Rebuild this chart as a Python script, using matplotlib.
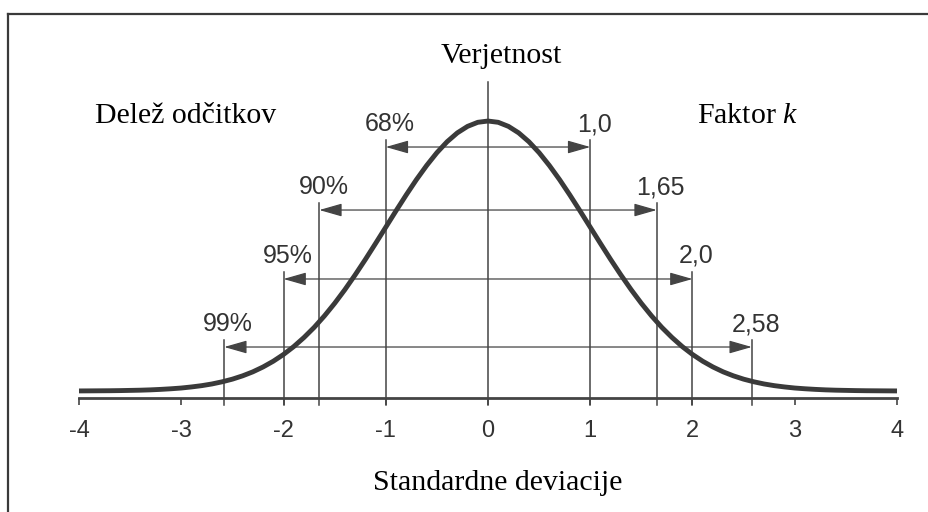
import matplotlib
matplotlib.use("Agg")
import matplotlib.pyplot as plt
from matplotlib.lines import Line2D

# standard normal density for z >= 0 (steps of 0.1); the curve is symmetric
z_half = [0.0, 0.1, 0.2, 0.3, 0.4, 0.5, 0.6, 0.7, 0.8, 0.9, 1.0,
          1.1, 1.2, 1.3, 1.4, 1.5, 1.6, 1.7, 1.8, 1.9, 2.0,
          2.1, 2.2, 2.3, 2.4, 2.5, 2.6, 2.7, 2.8, 2.9, 3.0,
          3.1, 3.2, 3.3, 3.4, 3.5, 3.6, 3.7, 3.8, 3.9, 4.0]
density_half = [0.3989, 0.3970, 0.3910, 0.3814, 0.3683, 0.3521, 0.3332, 0.3123, 0.2897, 0.2661, 0.2420,
                0.2179, 0.1942, 0.1714, 0.1497, 0.1295, 0.1109, 0.0940, 0.0790, 0.0656, 0.0540,
                0.0440, 0.0355, 0.0283, 0.0224, 0.0175, 0.0136, 0.0104, 0.0079, 0.0060, 0.0044,
                0.0033, 0.0024, 0.0017, 0.0012, 0.0009, 0.0006, 0.0004, 0.0003, 0.0002, 0.0001]

k_values = [1.0, 1.65, 2.0, 2.58]
k_labels = ['1,0', '1,65', '2,0', '2,58']
share_labels = ['68%', '90%', '95%', '99%']
ticks = [-4, -3, -2, -1, 0, 1, 2, 3, 4]
tick_labels = ['-4', '-3', '-2', '-1', '0', '1', '2', '3', '4']

# layout (density units)
arrow_levels = [0.3605, 0.2674, 0.1655, 0.0650]
axis_y = -0.0103

z = [-v for v in z_half[:0:-1]] + z_half
density = density_half[:0:-1] + density_half

W, H = 929, 512
plt.rcParams['font.family'] = ['Liberation Sans', 'DejaVu Sans']
plt.rcParams['mathtext.fontset'] = 'custom'
plt.rcParams['mathtext.it'] = 'Liberation Serif:italic'
plt.rcParams['mathtext.rm'] = 'Liberation Serif'

fig = plt.figure(figsize=(W / 100, H / 100), dpi=100)
ax = fig.add_axes([0, 0, 1, 1])
ax.set_xlim(-488 / 102.25, (W - 488) / 102.25)
ax.set_ylim(-0.17878, 0.57772)

line_col = '#444444'
curve_col = '#3a3a3a'
text_col = '#333333'

# curve
ax.plot(z, density, color=curve_col, lw=3.5, solid_capstyle='butt',
        solid_joinstyle='round', zorder=3)

# bottom axis through the spine
for s in ['top', 'right', 'left']:
    ax.spines[s].set_visible(False)
ax.spines['bottom'].set_position(('data', axis_y))
ax.spines['bottom'].set_bounds(-4, 4)
ax.spines['bottom'].set_linewidth(2.0)
ax.spines['bottom'].set_color(line_col)
ax.set_yticks([])
ax.set_xticks(ticks)
ax.set_xticklabels(tick_labels, fontsize=17, color=text_col)
ax.tick_params(axis='x', direction='out', length=5, width=1.2, color=line_col, pad=11)

tick_len = 7 / 676.8
top_gap = 7 / 676.8
label_gap = 23 / 676.8

# centre line
ax.plot([0, 0], [axis_y - tick_len, 0.4566], color=line_col, lw=1.1, zorder=2)

for k, lvl, kl, sl in zip(k_values, arrow_levels, k_labels, share_labels):
    for sx in (-k, k):
        ax.plot([sx, sx], [axis_y - tick_len, lvl + top_gap], color=line_col, lw=1.1, zorder=2)
    ax.annotate('', xy=(-k, lvl), xytext=(k, lvl),
                arrowprops=dict(arrowstyle='<|-|>,head_length=1.4,head_width=0.4',
                                mutation_scale=10, color=line_col, lw=0.9,
                                shrinkA=0, shrinkB=0), zorder=2)
    ax.text(-k + 0.04, lvl + label_gap, sl, fontsize=18, color=text_col,
            ha='center', va='center')
    ax.text(k + 0.04, lvl + label_gap, kl, fontsize=18, color=text_col,
            ha='center', va='center')

# serif captions
serif = dict(family=['Liberation Serif', 'DejaVu Serif'], fontsize=21.5, color='black')
fig.text(501 / W, 1 - 63 / H, 'Verjetnost', ha='center', va='baseline', **serif)
fig.text(186 / W, 1 - 123 / H, 'Delež odčitkov', ha='center', va='baseline', **serif)
fig.text(748 / W, 1 - 123 / H, 'Faktor $k$', ha='center', va='baseline', **serif)
fig.text(498 / W, 1 - 490 / H, 'Standardne deviacije', ha='center', va='baseline', **serif)

# frame (left and top edges)
fig.add_artist(Line2D([8 / W, 8 / W], [0, 1 - 14 / H], color='#3a3a3a', lw=1.6))
fig.add_artist(Line2D([8 / W, 1], [1 - 14 / H, 1 - 14 / H], color='#3a3a3a', lw=1.6))

fig.savefig('out.png', dpi=100)
